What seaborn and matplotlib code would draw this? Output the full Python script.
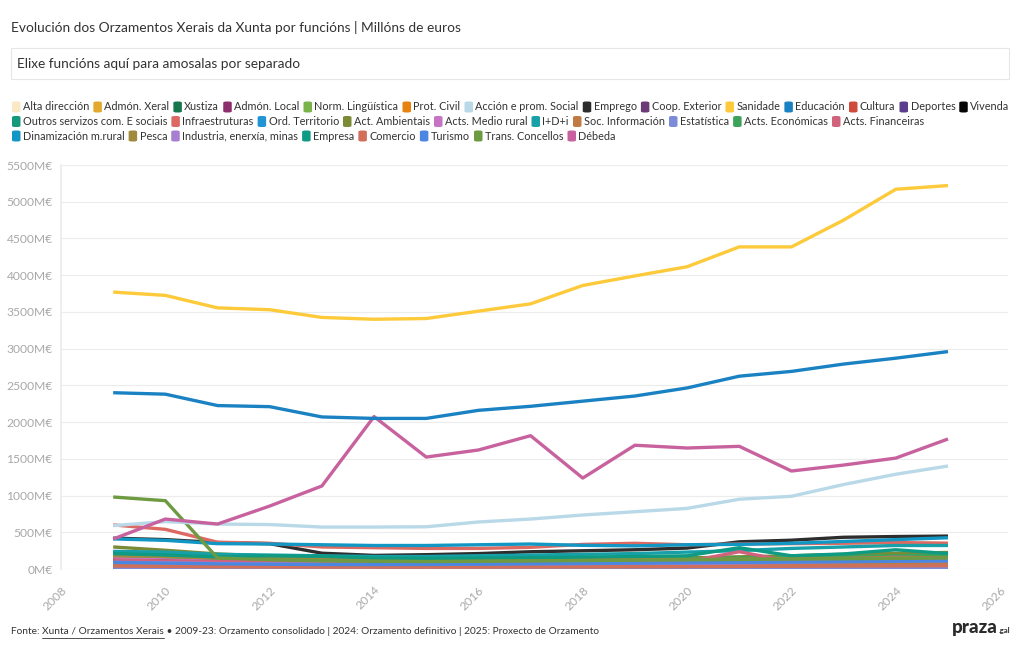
import numpy as np
import pandas as pd
import seaborn as sns
import matplotlib.pyplot as plt
from matplotlib.patches import FancyBboxPatch, Rectangle
from matplotlib.lines import Line2D

# Datos (millóns de euros), 2009-2025
anos = list(range(2009, 2026))

alta_direccion = [15, 14, 13, 12, 12, 12, 12, 13, 13, 13, 14, 14, 15, 15, 16, 17, 18]
admon_xeral = [70, 65, 55, 52, 50, 50, 50, 52, 53, 55, 58, 60, 62, 65, 68, 70, 72]
xustiza = [140, 135, 125, 120, 115, 115, 115, 118, 120, 125, 130, 135, 140, 145, 150, 160, 165]
admon_local = [45, 40, 35, 30, 28, 27, 27, 28, 28, 30, 30, 32, 32, 33, 34, 35, 35]
norm_linguistica = [20, 19, 17, 16, 15, 15, 15, 15, 16, 16, 17, 17, 18, 18, 19, 20, 20]
prot_civil = [30, 28, 25, 24, 23, 22, 22, 23, 24, 25, 26, 27, 30, 30, 32, 35, 35]
accion_social = [590, 645, 612, 605, 571, 571, 575, 640, 680, 735, 780, 825, 950, 990, 1150, 1290, 1402]
emprego = [420, 400, 360, 345, 215, 185, 195, 210, 235, 248, 262, 285, 370, 392, 432, 442, 448]
coop_exterior = [12, 10, 8, 6, 5, 5, 5, 5, 6, 6, 7, 7, 8, 8, 9, 9, 10]
sanidade = [3770, 3725, 3555, 3530, 3425, 3400, 3410, 3510, 3610, 3860, 3990, 4115, 4385, 4385, 4750, 5170, 5220]
educacion = [2400, 2380, 2225, 2210, 2070, 2050, 2050, 2160, 2215, 2285, 2355, 2465, 2625, 2690, 2790, 2870, 2960]
cultura = [110, 100, 80, 75, 70, 70, 70, 72, 75, 78, 80, 85, 95, 100, 105, 110, 115]
deportes = [35, 30, 25, 22, 20, 20, 20, 22, 24, 26, 28, 30, 32, 35, 38, 40, 42]
vivenda = [120, 110, 100, 95, 80, 70, 65, 60, 58, 55, 55, 58, 60, 55, 50, 45, 40]
outros_servizos = [230, 200, 160, 150, 140, 130, 125, 125, 130, 135, 140, 150, 160, 170, 180, 190, 200]
infraestruturas = [600, 540, 365, 350, 300, 290, 280, 280, 295, 335, 350, 330, 340, 345, 350, 360, 352]
ord_territorio = [70, 65, 55, 50, 48, 46, 45, 46, 48, 50, 52, 55, 58, 60, 62, 65, 68]
act_ambientais = [300, 255, 205, 175, 150, 140, 130, 130, 135, 140, 145, 150, 165, 180, 200, 215, 225]
acts_medio_rural = [160, 150, 130, 120, 110, 105, 100, 100, 105, 110, 115, 120, 130, 140, 150, 160, 170]
i_d_i = [240, 230, 200, 190, 180, 170, 170, 180, 190, 200, 210, 230, 250, 280, 300, 320, 320]
soc_informacion = [60, 55, 50, 45, 45, 45, 45, 50, 50, 55, 60, 65, 70, 70, 75, 80, 80]
estatistica = [8, 7, 6, 6, 5, 5, 5, 5, 6, 6, 6, 6, 7, 7, 7, 8, 8]
acts_economicas = [190, 170, 150, 140, 130, 125, 120, 120, 125, 130, 135, 140, 150, 160, 170, 180, 190]
acts_financeiras = [120, 110, 100, 95, 90, 85, 80, 80, 85, 90, 95, 100, 235, 100, 140, 160, 150]
dinamizacion_rural = [410, 390, 345, 340, 330, 320, 320, 330, 340, 322, 315, 330, 335, 350, 375, 400, 425]
pesca = [180, 170, 150, 140, 130, 120, 115, 115, 120, 125, 130, 130, 135, 140, 145, 150, 150]
industria = [90, 85, 75, 70, 65, 60, 60, 60, 62, 65, 70, 75, 80, 90, 100, 110, 110]
empresa = [210, 190, 165, 180, 172, 150, 145, 150, 155, 162, 170, 180, 290, 180, 205, 262, 210]
comercio = [40, 35, 30, 28, 26, 25, 25, 26, 27, 28, 30, 32, 35, 37, 40, 42, 45]
turismo = [90, 80, 70, 65, 60, 60, 62, 65, 70, 75, 80, 85, 90, 95, 100, 105, 110]
trans_concellos = [980, 930, 150, 125, 112, 105, 102, 105, 110, 115, 120, 125, 130, 135, 140, 145, 150]
debeda = [408, 680, 612, 857, 1130, 2075, 1524, 1620, 1815, 1238, 1685, 1647, 1670, 1334, 1415, 1510, 1770]

funcions = ["Alta dirección", "Admón. Xeral", "Xustiza", "Admón. Local", "Norm. Lingüística",
            "Prot. Civil", "Acción e prom. Social", "Emprego", "Coop. Exterior", "Sanidade",
            "Educación", "Cultura", "Deportes", "Vivenda", "Outros servizos com. E sociais",
            "Infraestruturas", "Ord. Territorio", "Act. Ambientais", "Acts. Medio rural", "I+D+i",
            "Soc. Información", "Estatística", "Acts. Económicas", "Acts. Financeiras",
            "Dinamización m.rural", "Pesca", "Industria, enerxía, minas", "Empresa", "Comercio",
            "Turismo", "Trans. Concellos", "Débeda"]
series = [alta_direccion, admon_xeral, xustiza, admon_local, norm_linguistica, prot_civil,
          accion_social, emprego, coop_exterior, sanidade, educacion, cultura, deportes, vivenda,
          outros_servizos, infraestruturas, ord_territorio, act_ambientais, acts_medio_rural, i_d_i,
          soc_informacion, estatistica, acts_economicas, acts_financeiras, dinamizacion_rural, pesca,
          industria, empresa, comercio, turismo, trans_concellos, debeda]
cores = ["#fbe9c6", "#e3a92f", "#16764c", "#8c2d6c", "#79b34a", "#e8820f", "#b9d9e8", "#2d2d2d",
         "#6b3b78", "#fcca3a", "#1a82c2", "#cf4a3a", "#5a3d8c", "#050505", "#16987a", "#dd6a62",
         "#2194d6", "#7b8a35", "#c673c4", "#17a0a8", "#c27a44", "#7c8bd8", "#3da35a", "#d2627c",
         "#1296c4", "#a08a3c", "#a77fd0", "#0f9a84", "#d0705a", "#4b87e0", "#6e9a42", "#c8629e"]

# Para o orde de debuxo: as grandes enriba
orde = funcions[:]
for f in ["Acción e prom. Social", "Débeda", "Educación", "Sanidade"]:
    orde.remove(f)
    orde.append(f)

df = pd.DataFrame([{"ano": a, "funcion": f, "valor": v}
                   for f, vals in zip(funcions, series) for a, v in zip(anos, vals)])
paleta = dict(zip(funcions, cores))

sns.set_theme(style="white")
plt.rcParams["font.family"] = ["Lato", "DejaVu Sans"]

fig = plt.figure(figsize=(10.2, 6.5), dpi=100)
ax = fig.add_axes([61 / 1020, 1 - 569 / 650, 947 / 1020, 404 / 650])

sns.lineplot(data=df, x="ano", y="valor", hue="funcion", hue_order=orde, palette=paleta,
             linewidth=2.4, legend=False, ax=ax, solid_capstyle="butt")

ax.set_xlim(2008, 2026.15)
ax.set_ylim(0, 5500)
ax.set_xticks(range(2008, 2027, 2))
ax.set_yticks(range(0, 5501, 500))
ax.set_yticklabels([f"{v}M€" for v in range(0, 5501, 500)])
for lab in ax.get_xticklabels():
    lab.set_rotation(45)
    lab.set_ha("right")
    lab.set_va("top")
    lab.set_rotation_mode("anchor")
ax.tick_params(axis="both", colors="#e4e4e4", labelcolor="#a8a8a8", labelsize=8.7)
ax.tick_params(axis="x", length=5, width=0.8, pad=6)
ax.tick_params(axis="y", length=0, pad=6)
ax.grid(axis="y", color="#ececec", linewidth=0.8)
ax.set_xlabel("")
ax.set_ylabel("")
for s in ["top", "right", "bottom"]:
    ax.spines[s].set_visible(False)
ax.spines["left"].set_color("#ececec")
ax.set_axisbelow(True)

# Título e caixa de selección
fig.text(11 / 1020, 1 - 27 / 650, "Evolución dos Orzamentos Xerais da Xunta por funcións | Millóns de euros",
         fontsize=9.95, color="#333333", va="center")
fig.patches.append(Rectangle((11 / 1020, 1 - 79 / 650), 998 / 1020, 31 / 650, transform=fig.transFigure,
                             facecolor="white", edgecolor="#e6e6e6", linewidth=0.8))
fig.text(17 / 1020, 1 - 64 / 650, "Elixe funcións aquí para amosalas por separado",
         fontsize=9.8, color="#333333", va="center")

# Lenda en filas
renderer = fig.canvas.get_renderer()
filas = [14, 10, 8]
idx = 0
for r, n in enumerate(filas):
    x = 11
    y = 107 + r * 14.5
    for k in range(n):
        nome = funcions[idx]
        fig.patches.append(FancyBboxPatch(((x + 1) / 1020, 1 - (y + 5.5) / 650), 8.5 / 1020, 11 / 650,
                                          boxstyle="round,pad=0,rounding_size=0.003",
                                          transform=fig.transFigure, facecolor=paleta[nome],
                                          edgecolor="none", mutation_aspect=650 / 1020))
        t = fig.text((x + 12) / 1020, 1 - y / 650, nome, fontsize=7.8, color="#333333", va="center")
        w = t.get_window_extent(renderer).width
        x = x + 12 + w + 3
        idx += 1

# Pé
y_pe = 1 - 631 / 650
t1 = fig.text(11 / 1020, y_pe, "Fonte: ", fontsize=7.3, color="#333333", va="center")
x = 11 + t1.get_window_extent(renderer).width
t2 = fig.text(x / 1020, y_pe, "Xunta / Orzamentos Xerais", fontsize=7.3, color="#333333", va="center")
w2 = t2.get_window_extent(renderer).width
fig.lines.append(Line2D([x / 1020, (x + w2) / 1020], [1 - 637.5 / 650, 1 - 637.5 / 650],
                        transform=fig.transFigure, color="#333333", linewidth=0.6))
x = x + w2
fig.text(x / 1020, y_pe, " • 2009-23: Orzamento consolidado | 2024: Orzamento definitivo | 2025: Proxecto de Orzamento",
         fontsize=7.3, color="#333333", va="center")

tl = fig.text(952 / 1020, 1 - 628 / 650, "praza", fontsize=13.5, fontweight="black", color="#2a2a2a", va="center")
wl = tl.get_window_extent(renderer).width
fig.text((952 + wl + 1) / 1020, 1 - 631 / 650, ".gal", fontsize=5.5, fontweight="bold", color="#2a2a2a", va="center")

fig.savefig("out.png", dpi=100, facecolor="white")
